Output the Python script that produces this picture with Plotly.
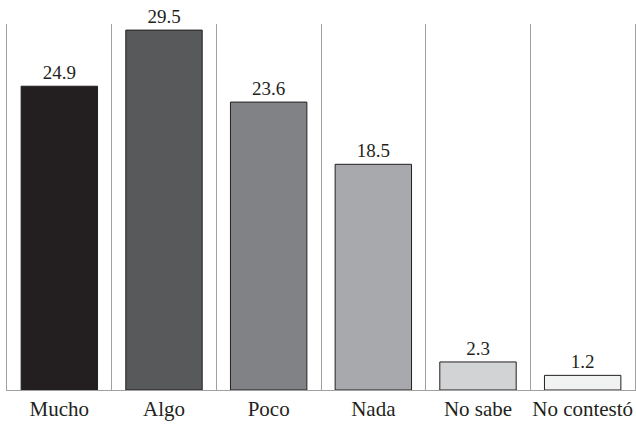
import plotly.graph_objects as go

categories = ["Mucho", "Algo", "Poco", "Nada", "No sabe", "No contestó"]
values = [24.9, 29.5, 23.6, 18.5, 2.3, 1.2]
colors = ["#231f20", "#58595b", "#808285", "#a7a9ac", "#d1d3d4", "#f1f2f2"]

fig = go.Figure(go.Bar(
    x=categories, y=values,
    marker=dict(color=colors, line=dict(color="#231f20", width=1)),
    width=0.73,
    text=[f"{v:.1f}" for v in values],
    textposition="outside",
    textfont=dict(family="Liberation Serif", size=19, color="#231f20"),
    cliponaxis=False,
))

fig.update_layout(
    width=636, height=424,
    margin=dict(l=7, r=1, t=24, b=34, autoexpand=False),
    paper_bgcolor="white", plot_bgcolor="white",
    showlegend=False,
    font=dict(family="Liberation Serif", color="#231f20"),
    xaxis=dict(
        type="category", tickson="boundaries", showgrid=True,
        gridcolor="#a0a0a0", gridwidth=1,
        showline=True, linecolor="#a0a0a0", linewidth=1, mirror=False,
        ticks="", tickangle=0, automargin=False,
        tickfont=dict(size=21, family="Liberation Serif", color="#231f20"),
        range=[-0.5, 5.5],
    ),
    yaxis=dict(
        range=[0, 30], showgrid=False, zeroline=False,
        showticklabels=False, ticks="", automargin=False,
        showline=True, linecolor="#a0a0a0", linewidth=1, mirror=True,
    ),
)

# remove the default 8px page margin so the figure fills the window exactly
fig.write_html(
    "out.html",
    config={"displayModeBar": False},
    post_script="document.body.style.margin='0';document.body.style.overflow='hidden';",
)
